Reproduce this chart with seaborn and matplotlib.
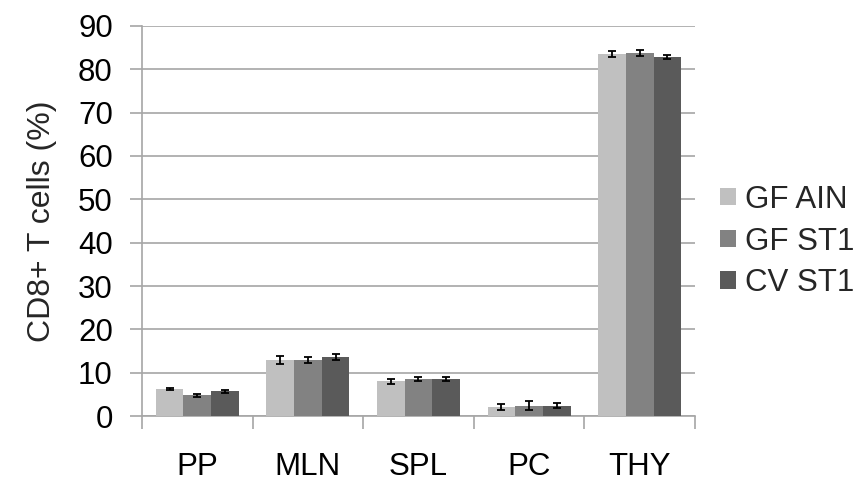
import matplotlib
matplotlib.use("Agg")
import matplotlib.pyplot as plt
import seaborn as sns
import pandas as pd
import numpy as np
from matplotlib.patches import Patch

categories = ["PP", "MLN", "SPL", "PC", "THY"]
groups = ["GF AIN", "GF ST1", "CV ST1"]
gf_ain = [6.2, 13.0, 8.0, 2.1, 83.6]
gf_st1 = [4.8, 13.0, 8.5, 2.4, 83.8]
cv_st1 = [5.7, 13.6, 8.5, 2.4, 82.8]
gf_ain_err = [0.2, 0.9, 0.5, 0.7, 0.7]
gf_st1_err = [0.3, 0.7, 0.4, 1.0, 0.7]
cv_st1_err = [0.3, 0.7, 0.5, 0.5, 0.5]
colors = ["#c0c0c0", "#828282", "#5a5a5a"]

vals = [gf_ain, gf_st1, cv_st1]
errs = [gf_ain_err, gf_st1_err, cv_st1_err]
rows = []
for g, v in zip(groups, vals):
    for c, x in zip(categories, v):
        rows.append({"cat": c, "group": g, "val": x})
df = pd.DataFrame(rows)

sns.set_theme(style="white")
plt.rcParams['font.family'] = ['Liberation Sans', 'DejaVu Sans']

fig = plt.figure(figsize=(8.61, 4.83), dpi=100)
ax = fig.add_axes([0.1649, 0.1387, 0.6423, 0.8075])

sns.barplot(data=df, x="cat", y="val", hue="group", order=categories,
            hue_order=groups, palette=colors, errorbar=None, width=0.75,
            gap=0, saturation=1, linewidth=0, ax=ax, legend=False, zorder=3)

for cont, e in zip(ax.containers, errs):
    xs = [p.get_x() + p.get_width() / 2 for p in cont]
    ys = [p.get_height() for p in cont]
    ax.errorbar(xs, ys, yerr=e, fmt="none", ecolor="black", elinewidth=1.3,
                capsize=3, capthick=1.3, zorder=4)

ax.set_ylim(0, 90)
ax.set_xlim(-0.5, 4.5)
ax.set_yticks(range(0, 91, 10))
ax.yaxis.grid(True, color="#a6a6a6", linewidth=1.2)
ax.set_axisbelow(True)
ax.set_xlabel("")
ax.set_ylabel("CD8+ T cells (%)", fontsize=23, labelpad=15)
ax.tick_params(axis="y", labelsize=22.5, length=9, width=1.2, color="#a6a6a6",
               direction="out", left=True, pad=12)
ax.tick_params(axis="x", which="major", labelsize=22.5, length=0, pad=26)
ax.set_xticks(np.arange(-0.5, 4.6, 1.0), minor=True)
ax.tick_params(axis="x", which="minor", length=9, width=1.2, color="#a6a6a6",
               direction="out", bottom=True)
for s in ["top", "right"]:
    ax.spines[s].set_visible(False)
for s in ["left", "bottom"]:
    ax.spines[s].set_color("#a6a6a6")
    ax.spines[s].set_linewidth(1.2)
for lbl in ax.get_xticklabels() + ax.get_yticklabels():
    lbl.set_color("black")

handles = [Patch(facecolor=c, edgecolor="none") for c in colors]
fig.legend(handles, groups, loc="center left", bbox_to_anchor=(0.822, 0.5),
           frameon=False, fontsize=22.5, handlelength=0.5, handleheight=0.5,
           handletextpad=0.3, labelspacing=0.38, borderaxespad=0)

fig.savefig("out.png", dpi=100)
